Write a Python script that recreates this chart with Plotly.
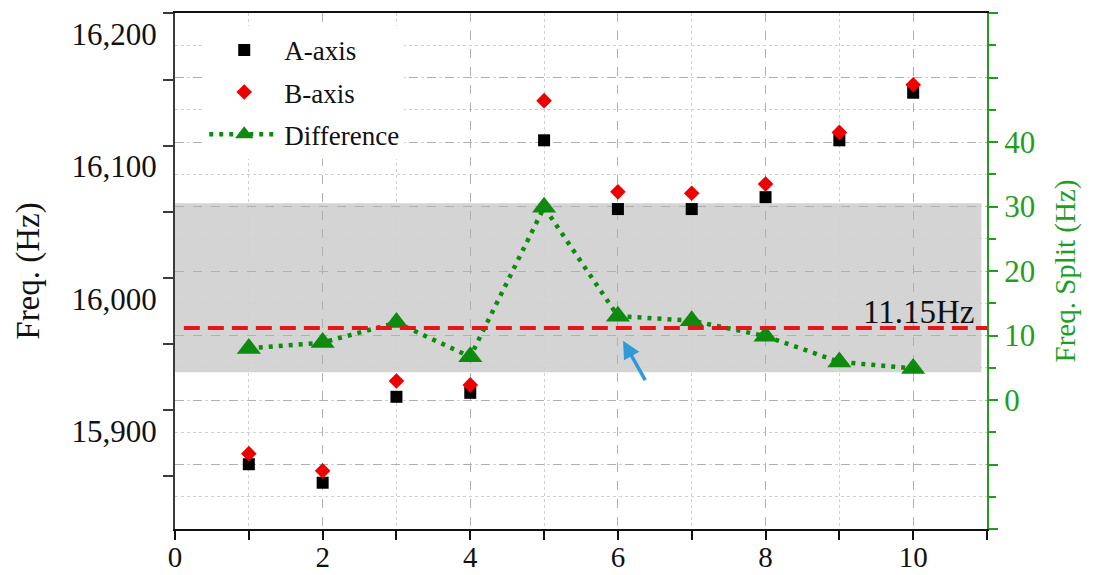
import plotly.graph_objects as go

# ---------------- data ----------------
positions = [1, 2, 3, 4, 5, 6, 7, 8, 9, 10]
a_axis = [15859, 15845, 15910, 15913, 16104, 16052, 16052, 16061, 16104, 16140]
b_axis = [15867, 15854, 15922, 15919, 16134, 16065, 16064, 16071, 16110, 16146]
difference = [8.0, 8.9, 12.0, 6.7, 29.9, 13.0, 12.3, 9.9, 5.9, 4.9]
mean_split = 11.15
mean_label = "11.15Hz"
band_low, band_high = 4.3, 30.5
arrow_target = (6.07, 9.2)

left_tick_vals = [15850, 15900, 15950, 16000, 16050, 16100, 16150, 16200]
left_tick_text = ["", "15,900", "", "16,000", "", "16,100", "", "16,200"]
right_tick_vals = [-20, -10, 0, 10, 20, 30, 40, 50, 60]
right_tick_text = ["", "", "0", "10", "20", "30", "40", "", ""]

# ---------------- styles ----------------
FONT = "Liberation Serif"
GREEN = "#0e8a0e"
AXIS_GREEN = "#1f9e1f"
DARK = "#3a3a3a"

fig = go.Figure()

fig.add_trace(go.Scatter(
    x=positions, y=a_axis, name="A-axis", mode="markers",
    marker=dict(symbol="square", size=12, color="black"),
    legendgroup="a",
))
fig.add_trace(go.Scatter(
    x=positions, y=b_axis, name="B-axis", mode="markers",
    marker=dict(symbol="diamond", size=12, color="#ee0000"),
    legendgroup="b",
))
fig.add_trace(go.Scatter(
    x=positions, y=difference, name="Difference", mode="lines+markers",
    yaxis="y2",
    line=dict(color=GREEN, width=4.5, dash="4px,6px"),
    marker=dict(symbol="triangle-up", size=21, color=GREEN),
    legendgroup="d",
))

# grey band and mean line
fig.add_shape(type="rect", xref="paper", yref="y2", x0=0, x1=0.993,
              y0=band_low, y1=band_high, fillcolor="#d4d4d4",
              line=dict(width=0), layer="below")
fig.add_shape(type="line", xref="x", yref="y2", x0=0.12, x1=11,
              y0=mean_split, y1=mean_split,
              line=dict(color="#e8141c", width=4, dash="16px,8px"))

fig.add_annotation(x=10.87, y=mean_split, xref="x", yref="y2",
                   text=mean_label, showarrow=False, xanchor="right",
                   yanchor="bottom", yshift=-4,
                   font=dict(family=FONT, size=33, color="#111"))
fig.add_annotation(x=arrow_target[0], y=arrow_target[1], xref="x", yref="y2",
                   text="", showarrow=True, ax=23, ay=41,
                   arrowcolor="#2f9ad8", arrowwidth=3.5, arrowhead=2,
                   arrowsize=1, standoff=0)

fig.update_layout(
    width=1097, height=575,
    margin=dict(l=175, r=110, t=13, b=46, autoexpand=False),
    paper_bgcolor="white", plot_bgcolor="white",
    font=dict(family=FONT, color="#111"),
    showlegend=True,
    legend=dict(x=0.036, y=0.975, xanchor="left", yanchor="top",
                bgcolor="white", font=dict(family=FONT, size=27, color="#111"),
                tracegroupgap=4, itemwidth=70),
    xaxis=dict(
        range=[0, 11], tick0=0, dtick=2, showline=True, linecolor="#111",
        linewidth=2, mirror=True, ticks="outside", ticklen=9, tickwidth=2,
        tickcolor="#111", showgrid=True, gridcolor="#b0b0b0", griddash="dash",
        gridwidth=1, zeroline=False, automargin=False, ticklabelstandoff=-8,
        tickfont=dict(family=FONT, size=29, color="#111"),
        minor=dict(dtick=1, ticks="outside", ticklen=9, tickwidth=2,
                   tickcolor="#111", showgrid=True, gridcolor="#d0d0d0",
                   griddash="dot", gridwidth=1),
    ),
    yaxis=dict(
        range=[15810, 16200.3], tickmode="array", tickvals=left_tick_vals,
        ticktext=left_tick_text, showgrid=False, zeroline=False,
        showline=True, linecolor=DARK, linewidth=2, ticks="outside",
        ticklen=10, tickwidth=2, tickcolor=DARK, ticklabelshift=21,
        automargin=False,
        tickfont=dict(family=FONT, size=31, color="#111"),
        title=dict(text="Freq. (Hz)", standoff=22,
                   font=dict(family=FONT, size=33, color="#111")),
    ),
    yaxis2=dict(
        range=[-20, 60], overlaying="y", side="right", tickmode="array",
        tickvals=right_tick_vals, ticktext=right_tick_text, zeroline=False,
        showline=True, linecolor=AXIS_GREEN, linewidth=2, ticks="outside",
        ticklen=9, tickwidth=2, tickcolor=AXIS_GREEN, automargin=False,
        showgrid=True, gridcolor="#b0b0b0", griddash="dash", gridwidth=1,
        tickfont=dict(family=FONT, size=31, color=AXIS_GREEN),
        minor=dict(dtick=5, tick0=0, ticks="outside", ticklen=7, tickwidth=2,
                   tickcolor=AXIS_GREEN, showgrid=True, gridcolor="#d0d0d0",
                   griddash="dot", gridwidth=1),
        title=dict(text="Freq. Split (Hz)", standoff=20,
                   font=dict(family=FONT, size=29, color=AXIS_GREEN)),
    ),
)

fig.write_html("out.html")
